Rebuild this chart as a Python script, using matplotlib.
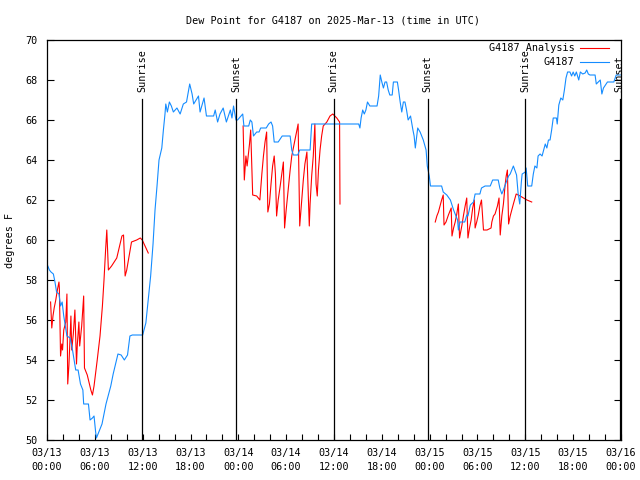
import matplotlib
matplotlib.use("Agg")
import matplotlib.pyplot as plt
import numpy as np

# hours since 2025-03-13 00:00 UTC
obs_hours = [0.1, 0.3, 0.5, 0.8, 1.0, 1.2, 1.5, 1.7, 1.9, 2.1, 2.5, 2.9, 3.2, 3.6, 3.9,
             4.2, 4.5, 4.6, 5.2, 5.4, 5.7, 5.9, 6.1, 6.2, 6.5, 6.9, 7.4, 8.0, 8.3, 8.6,
             8.9, 9.3, 9.7, 10.1, 10.4, 10.7, 12.0, 12.4, 12.7, 13.0, 13.3, 13.55, 13.8,
             14.05, 14.4, 14.6, 14.8, 14.9, 15.1, 15.35, 15.6, 15.85, 16.3, 16.7, 17.1,
             17.5, 17.9, 18.2, 18.4, 19.0, 19.2, 19.7, 20.0, 20.9, 21.1, 21.4, 21.7,
             22.1, 22.5, 23.0, 23.2, 23.4, 23.7, 23.9, 24.55, 24.7, 25.3, 25.5, 25.7,
             25.9, 26.3, 26.6, 26.8, 27.5, 27.8, 28.1, 28.3, 28.5, 29.0, 29.5, 30.5,
             30.7, 30.9, 31.45, 31.7, 33.0, 33.2, 39.1, 39.25, 39.4, 39.6, 39.8, 40.0,
             40.2, 40.5, 41.4, 41.6, 41.8, 42.0, 42.2, 42.4, 42.6, 42.8, 43.0, 43.3,
             43.45, 43.95, 44.1, 44.3, 44.5, 44.7, 44.9, 45.1, 45.3, 45.6, 45.9, 46.05,
             46.2, 46.5, 46.8, 47.2, 47.55, 47.7, 47.95, 48.1, 48.9, 49.5, 49.7, 50.15,
             50.6, 51.0, 51.3, 51.5, 51.6, 51.8, 52.4, 52.65, 52.8, 53.1, 53.5, 53.7,
             54.3, 54.5, 54.95, 55.6, 55.9, 56.6, 56.8, 57.05, 57.25, 57.7, 57.9, 58.1,
             58.3, 58.5, 58.9, 59.1, 59.3, 59.5, 59.6, 60.0, 60.1, 60.3, 60.8, 61.0,
             61.2, 61.45, 61.6, 61.85, 62.1, 62.3, 62.5, 62.7, 62.9, 63.1, 63.3, 63.5,
             63.9, 64.0, 64.2, 64.45, 64.7, 64.9, 65.1, 65.3, 65.6, 65.8, 66.0, 66.2,
             66.4, 66.7, 66.9, 67.2, 67.5, 67.7, 67.9, 68.1, 68.75, 68.9, 69.4, 69.6,
             69.8, 70.3, 71.1, 71.4, 71.9]
obs_dewpt = [58.7, 58.5, 58.4, 58.3, 57.9, 57.4, 57.3, 56.7, 56.9, 56.2, 55.2, 55.1, 54.5,
             53.5, 53.5, 52.8, 52.5, 51.8, 51.8, 51.0, 51.1, 51.2, 50.4, 50.1, 50.4, 50.8,
             51.8, 52.7, 53.3, 53.8, 54.3, 54.25, 54.0, 54.25, 55.2, 55.25, 55.25, 55.85,
             57.0, 58.2, 59.8, 61.5, 62.7, 64.0, 64.6, 65.5, 66.3, 66.8, 66.4, 66.9, 66.7,
             66.4, 66.6, 66.3, 66.8, 66.9, 67.8, 67.3, 66.8, 67.2, 66.4, 67.1, 66.2, 66.2,
             66.5, 65.9, 66.3, 66.6, 65.9, 66.5, 66.1, 66.7, 66.0, 66.0, 66.3, 65.7, 65.7,
             66.0, 65.9, 65.2, 65.4, 65.4, 65.6, 65.6, 65.8, 65.9, 65.7, 64.9, 64.9, 65.2,
             65.2, 64.5, 64.25, 64.25, 64.5, 64.5, 65.8, 65.8, 65.6, 66.1, 66.5, 66.3,
             66.5, 66.9, 66.7, 66.7, 67.2, 68.25, 67.9, 67.6, 67.9, 67.9, 67.5, 67.25,
             67.25, 67.9, 67.9, 67.5, 66.9, 66.4, 66.9, 66.9, 66.5, 66.0, 66.2, 65.5,
             65.2, 64.6, 65.6, 65.4, 65.0, 64.5, 63.7, 63.2, 62.7, 62.7, 62.7, 62.4,
             62.25, 62.0, 61.5, 61.2, 61.0, 60.5, 60.9, 60.9, 61.25, 61.2, 61.75, 61.9,
             62.3, 62.3, 62.6, 62.7, 62.7, 63.0, 63.0, 62.6, 62.3, 62.5, 63.0, 63.2, 63.3,
             63.5, 63.7, 63.25, 62.3, 61.8, 62.9, 63.3, 63.4, 63.6, 62.7, 62.7, 63.3,
             63.7, 63.6, 64.2, 64.3, 64.2, 64.5, 64.8, 64.6, 65.0, 65.0, 65.5, 66.1,
             66.1, 65.8, 66.75, 67.1, 67.0, 67.5, 68.1, 68.4, 68.4, 68.2, 68.4, 68.2,
             68.4, 68.0, 68.4, 68.3, 68.35, 68.5, 68.3, 68.25, 68.25, 67.8, 68.0, 67.3,
             67.6, 67.9, 67.9, 68.25, 68.25]

# analysis runs, NaN separates the three runs
ana_hours = [0.45, 0.6, 0.75, 0.9, 1.1, 1.3, 1.5, 1.55, 1.7, 1.85, 1.95, 2.1, 2.35, 2.5,
             2.6, 2.75, 2.9, 3.0, 3.1, 3.3, 3.5, 3.7, 3.8, 4.0, 4.1, 4.35, 4.55, 4.6, 4.7,
             5.05, 5.5, 5.7, 5.9, 6.3, 6.65, 6.95, 7.15, 7.35, 7.5, 7.7, 8.1, 8.75, 9.4,
             9.6, 9.8, 10.0, 10.6, 11.25, 11.7, 11.95, 12.7,
             18.0,
             24.6, 24.75, 24.95, 25.1, 25.4, 25.55, 25.8, 26.3, 26.7, 26.95, 27.15, 27.35,
             27.55, 27.7, 27.9, 28.1, 28.3, 28.5, 28.65, 28.8, 29.0, 29.25, 29.45, 29.65,
             29.8, 30.0, 30.3, 30.5, 30.7, 30.9, 31.1, 31.3, 31.5, 31.7, 31.95, 32.15,
             32.35, 32.6, 32.9, 33.0, 33.2, 33.4, 33.6, 33.75, 33.9, 34.05, 34.25, 34.45,
             34.65, 35.1, 35.5, 35.85, 36.35, 36.7, 36.75,
             42.0,
             48.7, 48.9, 49.1, 49.3, 49.5, 49.7, 49.8, 50.05, 50.35, 50.7, 50.8, 51.0,
             51.2, 51.4, 51.6, 51.75, 52.05, 52.25, 52.45, 52.65, 52.8, 53.0, 53.2, 53.4,
             53.6, 53.7, 53.9, 54.1, 54.3, 54.5, 54.75, 55.2, 55.7, 55.8, 56.0, 56.2,
             56.5, 56.7, 56.85, 57.05, 57.25, 57.45, 57.6, 57.75, 57.9, 58.1, 58.3, 58.5,
             58.85, 59.35, 60.2, 60.8]
ana_dewpt = [56.9, 55.6, 56.2, 56.6, 57.0, 57.5, 57.9, 57.6, 54.2, 54.8, 54.5, 55.5, 55.9,
             57.3, 52.8, 53.75, 55.2, 56.2, 54.5, 55.3, 56.5, 53.8, 54.75, 55.9, 54.7, 55.7,
             56.9, 57.2, 53.6, 53.25, 52.5, 52.25, 52.7, 54.0, 55.2, 56.7, 58.0, 59.5, 60.5,
             58.5, 58.7, 59.1, 60.2, 60.25, 58.2, 58.5, 59.9, 60.0, 60.1, 60.0, 59.35,
             np.nan,
             65.7, 63.0, 64.2, 63.7, 64.8, 65.5, 62.25, 62.2, 62.0, 63.3, 64.2, 64.9, 65.4,
             61.4, 61.8, 62.8, 63.7, 64.2, 63.3, 61.2, 62.0, 62.7, 63.3, 63.9, 60.6, 61.5,
             62.7, 63.5, 64.2, 64.6, 65.0, 65.4, 65.8, 60.7, 62.0, 63.0, 63.8, 64.4, 60.7,
             61.8, 63.2, 64.2, 65.8, 62.8, 62.2, 63.5, 64.5, 65.2, 65.7, 65.9, 66.2, 66.3,
             66.1, 65.9, 61.8,
             np.nan,
             60.9, 61.2, 61.4, 61.7, 62.0, 62.25, 60.75, 60.9, 61.25, 61.6, 60.2, 60.6,
             60.9, 61.3, 61.8, 60.1, 60.75, 61.25, 61.7, 62.1, 60.1, 60.6, 61.0, 61.6,
             62.0, 60.6, 60.9, 61.25, 61.7, 62.0, 60.5, 60.5, 60.6, 60.9, 61.2, 61.3,
             61.7, 62.1, 60.25, 61.2, 61.8, 62.7, 63.2, 63.5, 60.8, 61.2, 61.5, 61.8,
             62.3, 62.2, 62.0, 61.9]

sun_hours = [11.92, 23.71, 35.98, 47.77, 60.0, 71.85]
sun_labels = ["Sunrise", "Sunset", "Sunrise", "Sunset", "Sunrise", "Sunset"]

tick_hours = list(range(0, 73, 6))
tick_labels = ["03/13\n00:00", "03/13\n06:00", "03/13\n12:00", "03/13\n18:00",
               "03/14\n00:00", "03/14\n06:00", "03/14\n12:00", "03/14\n18:00",
               "03/15\n00:00", "03/15\n06:00", "03/15\n12:00", "03/15\n18:00",
               "03/16\n00:00"]

plt.rcParams["font.family"] = ["DejaVu Sans Mono"]
plt.rcParams["font.size"] = 7.3

fig = plt.figure(figsize=(6.4, 4.8), dpi=100)
ax = fig.add_axes([47 / 640, 40 / 480, 574 / 640, 400 / 480])

ax.plot(ana_hours, ana_dewpt, color="#ff0000", lw=0.8, label="G4187 Analysis")
ax.plot(obs_hours, obs_dewpt, color="#148cff", lw=0.8, label="G4187")

for h, lab in zip(sun_hours, sun_labels):
    ax.plot([h, h], [50, 67.05], color="black", lw=0.9)
    ax.text(h, 67.4, lab, rotation=90, ha="center", va="bottom")

ax.set_xlim(0, 72)
ax.set_ylim(50, 70)
ax.set_xticks(tick_hours)
ax.set_xticklabels(tick_labels, linespacing=1.5)
ax.set_xticks(np.arange(0, 73, 2), minor=True)
ax.set_yticks(np.arange(50, 71, 2))
ax.tick_params(axis="x", which="both", direction="in", length=4, width=0.8, pad=6)
ax.tick_params(axis="y", which="both", direction="in", length=5, width=0.8,
               right=True, pad=7)
for s in ax.spines.values():
    s.set_linewidth(0.9)

ax.legend(loc="upper right", bbox_to_anchor=(0.979, 0.992), frameon=False,
          markerfirst=False, handlelength=2.9, handletextpad=0.5, labelspacing=0.4,
          borderaxespad=0.0, borderpad=0.0)

fig.text(0.52, 0.958, "Dew Point for G4187 on 2025-Mar-13 (time in UTC)",
         ha="center", va="center")
fig.text(0.016, 0.5, "degrees F", rotation=90, ha="center", va="center")

fig.savefig("out.png", dpi=100)
